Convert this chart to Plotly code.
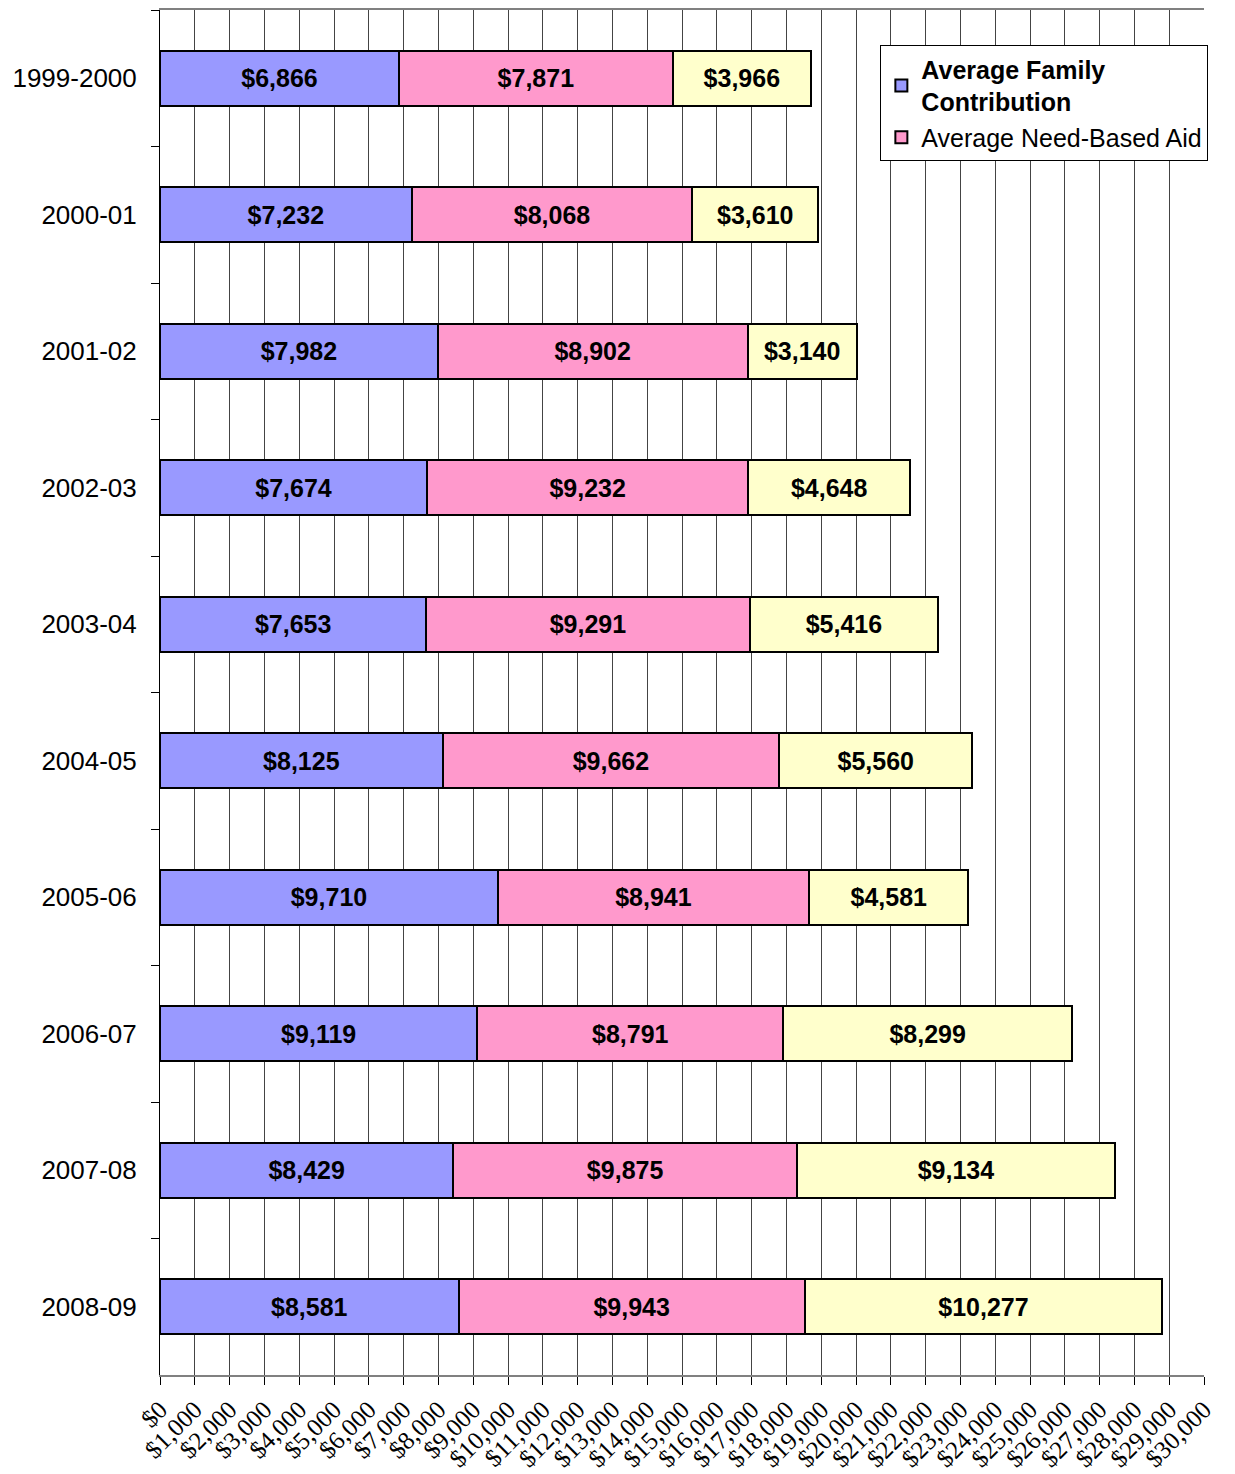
import plotly.graph_objects as go

years = ["1999-2000", "2000-01", "2001-02", "2002-03", "2003-04",
         "2004-05", "2005-06", "2006-07", "2007-08", "2008-09"]
family_contribution = [6866, 7232, 7982, 7674, 7653, 8125, 9710, 9119, 8429, 8581]
need_based_aid = [7871, 8068, 8902, 9232, 9291, 9662, 8941, 8791, 9875, 9943]
remaining = [3966, 3610, 3140, 4648, 5416, 5560, 4581, 8299, 9134, 10277]

tick_values = list(range(0, 30001, 1000))
tick_labels = ["$" + format(v, ",") for v in tick_values]

SANS = "Liberation Sans, Arial, sans-serif"
SERIF = "Liberation Serif, Times New Roman, serif"

series = [
    ("<b>Average Family</b><br><b>Contribution</b>", family_contribution, "#9999FF", True),
    ("Average Need-Based Aid", need_based_aid, "#FF99CC", True),
    ("Remaining", remaining, "#FFFFCC", False),
]

fig = go.Figure()
for name, vals, color, show in series:
    fig.add_trace(go.Bar(
        y=years, x=vals, orientation="h", name=name, showlegend=show,
        marker=dict(color=color, line=dict(color="black", width=2)),
        texttemplate="<b>$%{x:,}</b>", textposition="inside",
        insidetextanchor="middle", textangle=0, constraintext="none",
        textfont=dict(family=SANS, size=25, color="black"),
        hoverinfo="skip",
    ))

fig.update_layout(
    barmode="stack", bargap=0.6,
    width=1227, height=1466,
    margin=dict(l=152, r=31, t=2, b=99),
    paper_bgcolor="white", plot_bgcolor="white",
    font=dict(family=SANS, size=24, color="black"),
    legend=dict(x=0.69, y=0.974, xanchor="left", yanchor="top",
                bordercolor="black", borderwidth=1, bgcolor="white",
                font=dict(family=SANS, size=25, color="black"),
                traceorder="normal"),
)

fig.update_xaxes(
    range=[0, 30000], tickvals=tick_values, ticktext=tick_labels,
    tickangle=-45, tickfont=dict(family=SERIF, size=25, color="black"),
    showgrid=True, gridcolor="#444444", gridwidth=1,
    showline=True, linecolor="#808080", linewidth=2, mirror=True,
    ticks="outside", ticklen=8, tickcolor="black", zeroline=False,
    automargin=False,
)
fig.update_yaxes(
    type="category",
    categoryorder="array", categoryarray=years, autorange="reversed",
    tickfont=dict(family=SANS, size=26, color="black"),
    showline=True, linecolor="black", linewidth=1,
    ticks="outside", tickson="boundaries", ticklen=8, tickcolor="black",
    showgrid=False, automargin=False, ticklabelstandoff=17,
)

fig.write_html("out.html")
